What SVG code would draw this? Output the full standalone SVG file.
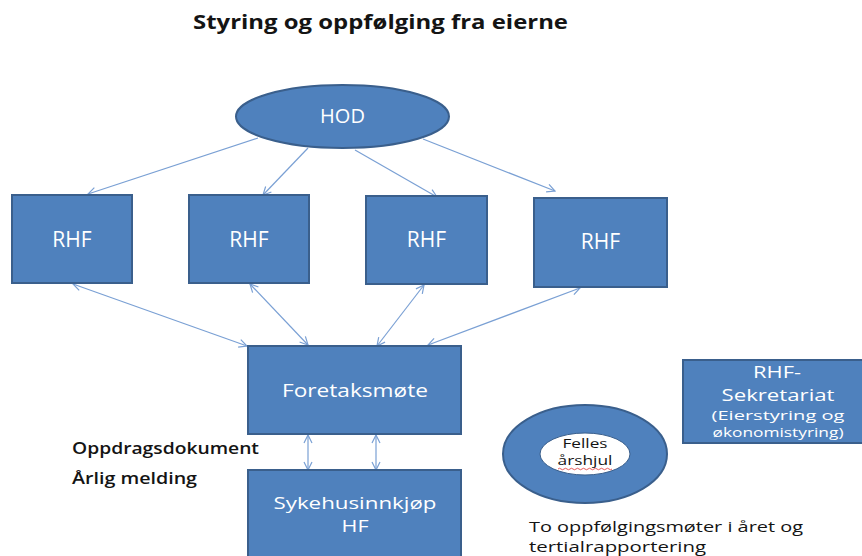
<svg xmlns="http://www.w3.org/2000/svg" width="862" height="556" viewBox="0 0 862 556">
<defs>
<marker id="arr" viewBox="0 0 10 10" refX="9" refY="5" markerWidth="10" markerHeight="10" markerUnits="userSpaceOnUse" orient="auto-start-reverse">
<path d="M1,1 L9,5 L1,9" fill="none" stroke="#7aa0d4" stroke-width="1.2"/>
</marker>
</defs>
<style>
.node{fill:#4f81bd;stroke:#3a5f8c;stroke-width:2}
.lbl{fill:#ffffff;font-family:"Open Sans","Liberation Sans",sans-serif;text-anchor:middle}
.blk{fill:#141414;font-family:"Open Sans","Liberation Sans",sans-serif}
.con{stroke:#7aa0d4;stroke-width:1.2;fill:none}
</style>
<rect width="862" height="556" fill="#ffffff"/>
<text x="193" y="29" class="blk" font-size="20" font-weight="bold" textLength="375" lengthAdjust="spacingAndGlyphs">Styring og oppfølging fra eierne</text>

<g id="connectors">
<line class="con" x1="258" y1="138" x2="88" y2="194" marker-end="url(#arr)"/>
<line class="con" x1="308" y1="148" x2="263" y2="195" marker-end="url(#arr)"/>
<line class="con" x1="355" y1="150" x2="437" y2="197" marker-end="url(#arr)"/>
<line class="con" x1="423" y1="139" x2="555" y2="191" marker-end="url(#arr)"/>
<line class="con" x1="73" y1="284" x2="247" y2="346" marker-start="url(#arr)" marker-end="url(#arr)"/>
<line class="con" x1="250" y1="284" x2="308" y2="345" marker-start="url(#arr)" marker-end="url(#arr)"/>
<line class="con" x1="424" y1="285" x2="377" y2="346" marker-start="url(#arr)" marker-end="url(#arr)"/>
<line class="con" x1="580" y1="288" x2="428" y2="345" marker-start="url(#arr)" marker-end="url(#arr)"/>
<line class="con" x1="308" y1="435" x2="308" y2="470" marker-start="url(#arr)" marker-end="url(#arr)"/>
<line class="con" x1="376" y1="435" x2="376" y2="470" marker-start="url(#arr)" marker-end="url(#arr)"/>
</g>

<g id="hod">
<ellipse class="node" cx="342.5" cy="116.5" rx="106.5" ry="31.5"/>
<text x="342.5" y="123" class="lbl" font-size="20">HOD</text>
</g>
<g id="rhf1">
<rect class="node" x="12" y="195" width="120" height="88"/>
<text x="72" y="247" class="lbl" font-size="21">RHF</text>
</g>
<g id="rhf2">
<rect class="node" x="189" y="195" width="120" height="88"/>
<text x="249" y="247" class="lbl" font-size="21">RHF</text>
</g>
<g id="rhf3">
<rect class="node" x="366" y="196" width="121" height="88"/>
<text x="426.5" y="247" class="lbl" font-size="21">RHF</text>
</g>
<g id="rhf4">
<rect class="node" x="534" y="198" width="133" height="89"/>
<text x="600.5" y="249" class="lbl" font-size="21">RHF</text>
</g>
<g id="foretaksmote">
<rect class="node" x="248" y="346" width="213" height="88"/>
<text x="355" y="397" class="lbl" font-size="18" textLength="146" lengthAdjust="spacingAndGlyphs">Foretaksmøte</text>
</g>
<g id="sykehusinnkjop">
<rect class="node" x="248" y="470" width="213" height="95"/>
<text x="355" y="509" class="lbl" font-size="17" textLength="163" lengthAdjust="spacingAndGlyphs">Sykehusinnkjøp</text>
<text x="355" y="532" class="lbl" font-size="17" textLength="27" lengthAdjust="spacingAndGlyphs">HF</text>
</g>
<g id="sekretariat">
<rect class="node" x="683" y="360" width="192" height="83"/>
<text x="777" y="378" class="lbl" font-size="17" textLength="48" lengthAdjust="spacingAndGlyphs">RHF-</text>
<text x="778" y="401" class="lbl" font-size="17" textLength="113" lengthAdjust="spacingAndGlyphs">Sekretariat</text>
<text x="778" y="420" class="lbl" font-size="13" textLength="133" lengthAdjust="spacingAndGlyphs">(Eierstyring og</text>
<text x="778" y="437" class="lbl" font-size="13" textLength="131" lengthAdjust="spacingAndGlyphs">økonomistyring)</text>
</g>
<g id="arshjul">
<ellipse class="node" cx="585" cy="454" rx="82" ry="49"/>
<ellipse cx="585" cy="454" rx="45" ry="21" fill="#ffffff" stroke="#3a5f8c" stroke-width="1"/>
<text x="585" y="448" class="blk" font-size="13" text-anchor="middle" textLength="45" lengthAdjust="spacingAndGlyphs">Felles</text>
<text x="585" y="465" class="blk" font-size="13" text-anchor="middle" textLength="55" lengthAdjust="spacingAndGlyphs">årshjul</text>
<path d="M558,469 q1.5,-1.5 3,0 t3,0 t3,0 t3,0 t3,0 t3,0 t3,0 t3,0 t3,0 t3,0 t3,0 t3,0 t3,0 t3,0 t3,0 t3,0 t3,0 t3,0" fill="none" stroke="#e03030" stroke-width="0.8"/>
</g>
<g id="labels">
<text x="72" y="454" class="blk" font-size="16" font-weight="600" textLength="187" lengthAdjust="spacingAndGlyphs">Oppdragsdokument</text>
<text x="72" y="484" class="blk" font-size="16" font-weight="600" textLength="125" lengthAdjust="spacingAndGlyphs">Årlig melding</text>
<text x="529" y="532" class="blk" font-size="15" textLength="274" lengthAdjust="spacingAndGlyphs">To oppfølgingsmøter i året og</text>
<text x="529" y="552" class="blk" font-size="15" textLength="177" lengthAdjust="spacingAndGlyphs">tertialrapportering</text>
</g>
</svg>
